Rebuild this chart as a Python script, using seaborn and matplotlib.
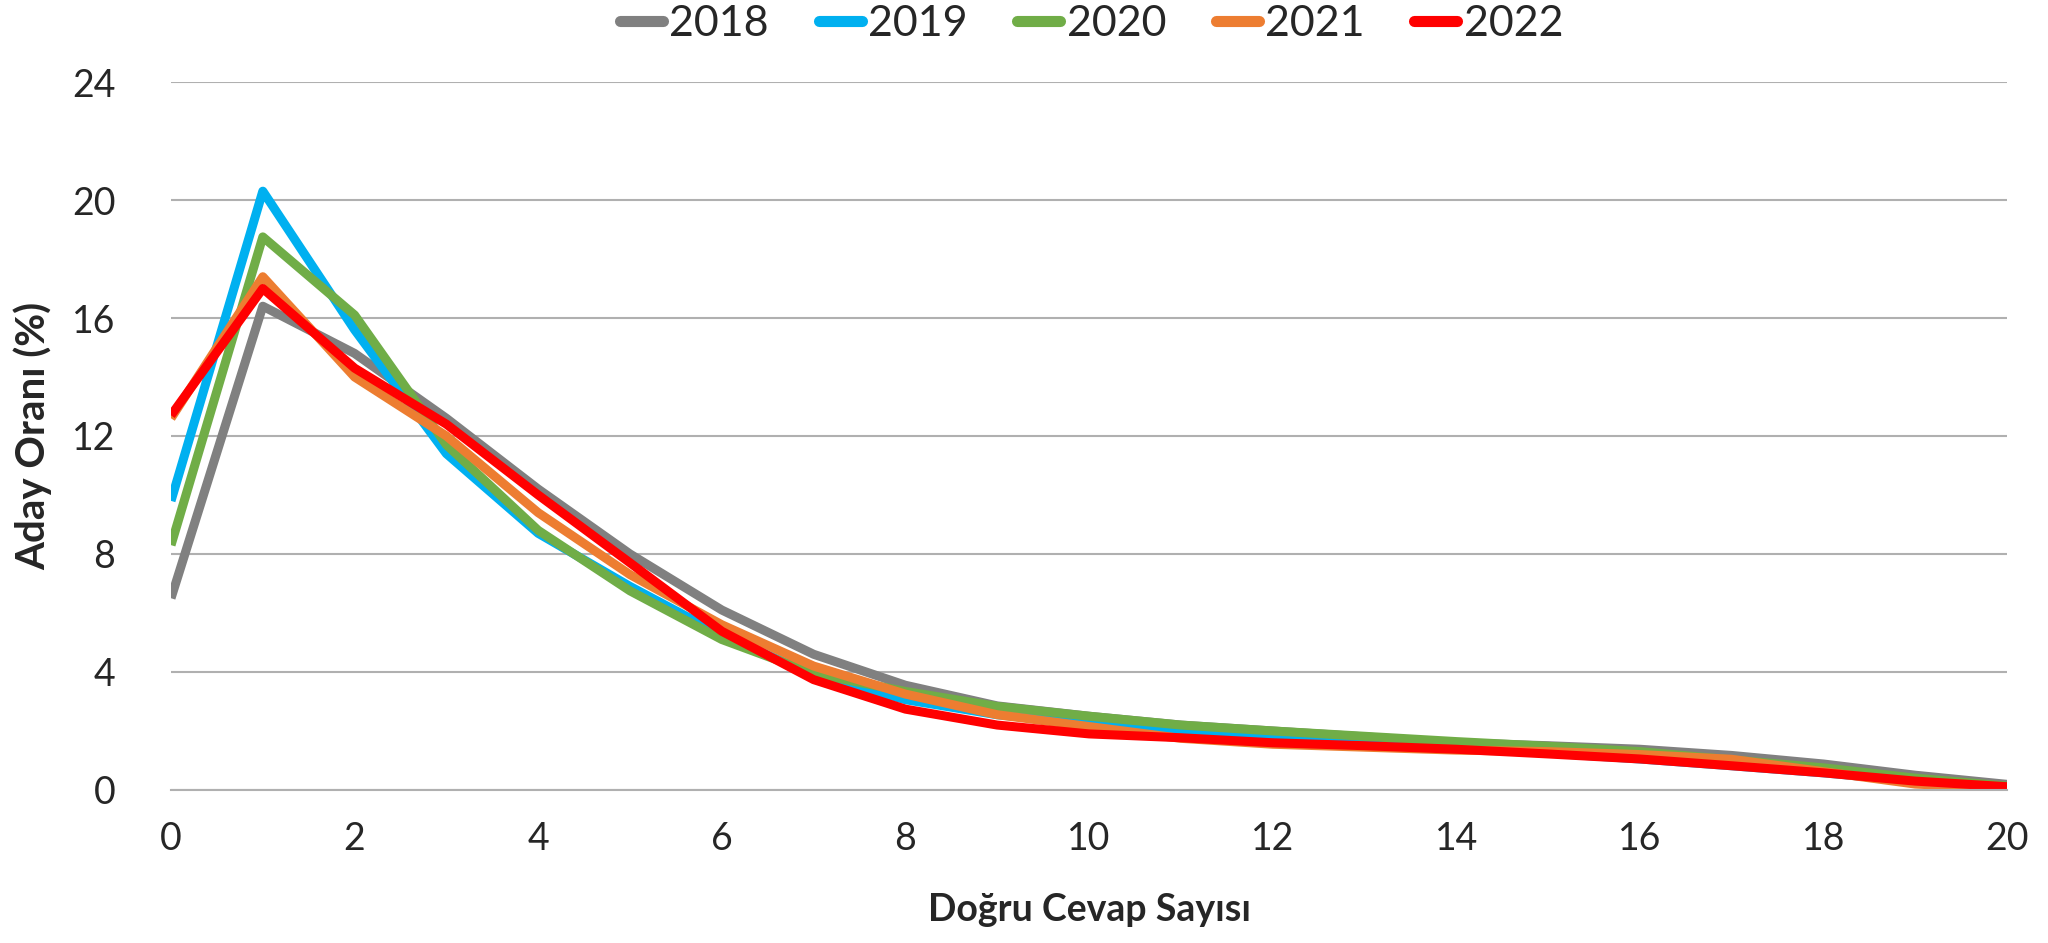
import numpy as np
import pandas as pd
import seaborn as sns
from matplotlib import pyplot as plt

# Doğru cevap sayısı dağılımı, yıllara göre
dogru = list(range(21))
years = ['2018', '2019', '2020', '2021', '2022']

y2018 = [6.5, 16.4, 14.8, 12.6, 10.2, 8.0, 6.1, 4.6, 3.55, 2.85, 2.5, 2.2, 2.0, 1.8, 1.6, 1.5, 1.38, 1.17, 0.88, 0.5, 0.19]
y2019 = [9.8, 20.3, 15.6, 11.4, 8.7, 6.9, 5.25, 3.9, 3.06, 2.55, 2.25, 2.0, 1.8, 1.6, 1.4, 1.25, 1.05, 0.82, 0.58, 0.3, 0.1]
y2020 = [8.3, 18.75, 16.1, 11.7, 8.8, 6.75, 5.1, 3.95, 3.34, 2.83, 2.5, 2.2, 2.0, 1.82, 1.64, 1.48, 1.3, 1.02, 0.75, 0.4, 0.13]
y2021 = [12.6, 17.4, 14.0, 12.0, 9.4, 7.3, 5.6, 4.2, 3.25, 2.55, 2.15, 1.75, 1.55, 1.45, 1.35, 1.3, 1.2, 1.04, 0.62, 0.2, 0.05]
y2022 = [12.7, 17.0, 14.3, 12.4, 10.0, 7.7, 5.38, 3.74, 2.74, 2.2, 1.9, 1.77, 1.6, 1.5, 1.38, 1.22, 1.05, 0.82, 0.58, 0.3, 0.11]

colors = ['#808080', '#00B0F0', '#70AD47', '#ED7D31', '#FF0000']

yticks = [0, 4, 8, 12, 16, 20, 24]
xticks = list(range(0, 21, 2))

df = pd.DataFrame({
    'x': dogru * 5,
    'y': y2018 + y2019 + y2020 + y2021 + y2022,
    'year': sum([[yr] * 21 for yr in years], []),
})

sns.set_style('white')
plt.rcParams['font.family'] = ['Lato', 'DejaVu Sans']

fig = plt.figure(figsize=(20.48, 9.43), dpi=100)
ax = fig.add_axes([0.0835, 0.1623, 0.8965, 0.7507])

sns.lineplot(data=df, x='x', y='y', hue='year', palette=colors, linewidth=6.5,
             ax=ax, legend=False, solid_capstyle='butt')

ax.set_xlim(0, 20)
ax.set_ylim(0, 24)
ax.set_yticks(yticks)
ax.set_xticks(xticks)
ax.set_xticks(dogru, minor=True)
ax.yaxis.grid(True, color='#B0B0B0', linewidth=1.5)
ax.set_axisbelow(True)
for s in ['top', 'right', 'left']:
    ax.spines[s].set_visible(False)
ax.spines['bottom'].set_color('#B0B0B0')
ax.spines['bottom'].set_linewidth(1.5)
ax.tick_params(axis='x', which='both', direction='out', length=12, width=1.2,
               color='#B0B0B0', labelsize=27, pad=10)
ax.tick_params(axis='y', length=0, labelsize=27, pad=40)

ax.set_xlabel('Doğru Cevap Sayısı', fontsize=27, fontweight='bold', labelpad=26)
ax.set_ylabel('Aday Oranı (%)', fontsize=29, fontweight='bold', labelpad=14)

handles = [plt.Line2D([], [], color=c, linewidth=8, solid_capstyle='round') for c in colors]
fig.legend(handles, years, loc='center', bbox_to_anchor=(0.533, 0.975), ncol=5,
           frameon=False, fontsize=31, handlelength=1.0, handletextpad=0.15,
           columnspacing=1.15)

fig.savefig('out.png', dpi=100)
